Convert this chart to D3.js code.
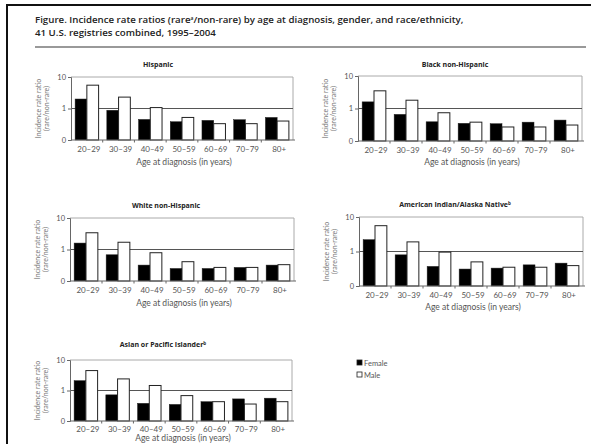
<!DOCTYPE html>
<html>
<head>
<meta charset="utf-8">
<script src="https://cdn.jsdelivr.net/npm/d3@7"></script>
<style>
  html, body { margin: 0; padding: 0; background: #fff; }
  svg { display: block; font-family: Lato, "Noto Sans", sans-serif; }
</style>
</head>
<body>
<svg id="chart" width="591" height="444"></svg>
<script>
// Age groups along the x axis
const ageGroups = ["20–29", "30–39", "40–49", "50–59", "60–69", "70–79", "80+"];

// Incidence rate ratios (rare/non-rare) by race/ethnicity and gender
const hispanicFemale = [2.0, 0.88, 0.45, 0.38, 0.42, 0.44, 0.52];
const hispanicMale   = [5.5, 2.3, 1.07, 0.52, 0.33, 0.33, 0.40];
const blackFemale    = [1.6, 0.66, 0.39, 0.35, 0.34, 0.38, 0.44];
const blackMale      = [3.5, 1.8, 0.74, 0.38, 0.27, 0.27, 0.31];
const whiteFemale    = [1.6, 0.68, 0.32, 0.25, 0.25, 0.27, 0.32];
const whiteMale      = [3.4, 1.7, 0.79, 0.41, 0.27, 0.27, 0.33];
const aianFemale     = [2.2, 0.80, 0.37, 0.31, 0.33, 0.41, 0.46];
const aianMale       = [5.6, 1.9, 0.96, 0.50, 0.35, 0.35, 0.39];
const apiFemale      = [2.1, 0.72, 0.38, 0.35, 0.43, 0.53, 0.56];
const apiMale        = [4.5, 2.4, 1.46, 0.68, 0.43, 0.36, 0.43];

// Log axis: bottom tick (0.1) is printed as "0"
const yTicks = [0.1, 1, 10];
const yTickLabels = ["0", "1", "10"];

const panelTitles = ["Hispanic", "Black non-Hispanic", "White non-Hispanic",
                     "American Indian/Alaska Native", "Asian or Pacific Islander"];
const titleMarks = ["", "", "", "b", "b"];
const legendLabels = ["Female", "Male"];

const series = [
  [hispanicFemale, hispanicMale],
  [blackFemale, blackMale],
  [whiteFemale, whiteMale],
  [aianFemale, aianMale],
  [apiFemale, apiMale]
];

// Panel geometry: plot box and text positions
const panels = [
  { x0: 71,  x1: 293, y0: 77,  y1: 140, titleX: 158, titleY: 67,  tickY: 152, labelY: 165 },
  { x0: 358, x1: 582, y0: 76,  y1: 141, titleX: 455, titleY: 67,  tickY: 153, labelY: 165 },
  { x0: 70,  x1: 294, y0: 218, y1: 281, titleX: 166, titleY: 208, tickY: 293, labelY: 306 },
  { x0: 359, x1: 583, y0: 217, y1: 286, titleX: 455, titleY: 207, tickY: 298, labelY: 310 },
  { x0: 70,  x1: 292, y0: 360, y1: 421, titleX: 163, titleY: 347, tickY: 432, labelY: 441 }
];

const svg = d3.select("#chart");
const headFont = "'Open Sans', sans-serif";

// Page frame (left and top rules)
svg.append("line").attr("x1", 7).attr("x2", 7).attr("y1", 4).attr("y2", 444)
  .attr("stroke", "#111").attr("stroke-width", 2);
svg.append("line").attr("x1", 6).attr("x2", 591).attr("y1", 5).attr("y2", 5)
  .attr("stroke", "#111").attr("stroke-width", 2);

// Figure title, two lines
const title = svg.append("text").attr("x", 35).attr("y", 23)
  .style("font-size", "9.7px").style("font-weight", 600).attr("fill", "#222")
  .style("font-family", headFont);
title.append("tspan").text("Figure. Incidence rate ratios (rare");
title.append("tspan").style("font-size", "5px").attr("dy", -3).text("a");
title.append("tspan").attr("dy", 3).text("/non-rare) by age at diagnosis, gender, and race/ethnicity,");
svg.append("text").attr("x", 35).attr("y", 36)
  .style("font-size", "9.7px").style("font-weight", 600).attr("fill", "#222")
  .style("font-family", headFont)
  .text("41 U.S. registries combined, 1995–2004");
svg.append("line").attr("x1", 35).attr("x2", 586).attr("y1", 47).attr("y2", 47)
  .attr("stroke", "#777").attr("stroke-width", 1.3);

panels.forEach((p, i) => {
  const g = svg.append("g");
  const [fem, mal] = series[i];

  const x = d3.scaleBand().domain(ageGroups).range([p.x0, p.x1]);
  const xs = d3.scaleBand().domain(legendLabels).range([0, x.bandwidth()])
    .paddingInner(0).paddingOuter(0.35);
  const y = d3.scaleLog().domain([0.1, 10]).range([p.y1, p.y0]);

  // Plot frame: top and right edges
  g.append("path")
    .attr("d", `M${p.x0},${p.y0}H${p.x1}V${p.y1}`)
    .attr("fill", "none").attr("stroke", "#aaa").attr("stroke-width", 1);

  // Reference line at ratio = 1
  g.append("line").attr("x1", p.x0).attr("x2", p.x1)
    .attr("y1", y(1)).attr("y2", y(1))
    .attr("stroke", "#555").attr("stroke-width", 1.2);

  // Bars
  [fem, mal].forEach((vals, k) => {
    g.selectAll(null).data(vals).join("rect")
      .attr("x", (d, j) => x(ageGroups[j]) + xs(legendLabels[k]))
      .attr("width", xs.bandwidth())
      .attr("y", d => y(d))
      .attr("height", d => y(0.1) - y(d))
      .attr("fill", k === 0 ? "#000" : "#fff")
      .attr("stroke", "#222").attr("stroke-width", k === 0 ? 0.5 : 1);
  });

  // Y axis
  const yAxis = d3.axisLeft(y).tickValues(yTicks)
    .tickFormat((d, j) => yTickLabels[j]).tickSize(3).tickPadding(2);
  const ya = g.append("g").attr("transform", `translate(${p.x0},0)`).call(yAxis);
  ya.attr("font-family", null).attr("font-size", null);
  ya.select(".domain").attr("stroke", "#666");
  ya.selectAll(".tick line").attr("stroke", "#666");
  ya.selectAll(".tick text").style("font-size", "7.5px").attr("fill", "#555");

  // X axis: ticks at category boundaries, labels under each group
  g.append("line").attr("x1", p.x0).attr("x2", p.x1 + 2)
    .attr("y1", p.y1).attr("y2", p.y1).attr("stroke", "#666");
  g.selectAll(null).data(ageGroups.slice(1)).join("line")
    .attr("x1", d => x(d)).attr("x2", d => x(d))
    .attr("y1", p.y1).attr("y2", p.y1 + 2.5).attr("stroke", "#666");
  g.selectAll(null).data(ageGroups).join("text")
    .attr("x", d => x(d) + x.bandwidth() / 2 + 2)
    .attr("y", p.tickY).attr("text-anchor", "middle")
    .style("font-size", "8px").attr("fill", "#555").text(d => d);

  // Axis titles
  g.append("text").attr("x", (p.x0 + p.x1) / 2 + 2).attr("y", p.labelY)
    .attr("text-anchor", "middle").style("font-size", "8.5px").attr("fill", "#555")
    .text("Age at diagnosis (in years)");
  const cy = (p.y0 + p.y1) / 2;
  const yt = g.append("text").attr("transform", `translate(${p.x0 - 30},${cy}) rotate(-90)`)
    .attr("text-anchor", "middle").style("font-size", "7px").attr("fill", "#777");
  yt.append("tspan").attr("x", 0).attr("dy", 0).text("Incidence rate ratio");
  yt.append("tspan").attr("x", 0).attr("dy", 8).text("(rare/non-rare)");

  // Panel title
  const t = g.append("text").attr("x", p.titleX).attr("y", p.titleY)
    .attr("text-anchor", "middle").style("font-size", "7px").style("font-weight", 700)
    .style("font-family", headFont).attr("fill", "#222");
  t.append("tspan").text(panelTitles[i]);
  if (titleMarks[i]) {
    t.append("tspan").style("font-size", "4.5px").attr("dy", -2.5).text(titleMarks[i]);
  }
});

// Legend
const legend = svg.append("g").attr("transform", "translate(357,360)");
legendLabels.forEach((lab, k) => {
  legend.append("rect").attr("x", 0).attr("y", k * 12).attr("width", 5).attr("height", 5)
    .attr("fill", k === 0 ? "#000" : "#fff").attr("stroke", "#222").attr("stroke-width", 0.8);
  legend.append("text").attr("x", 7).attr("y", k * 12 + 5.5)
    .style("font-size", "7.5px").attr("fill", "#555").text(lab);
});
</script>
</body>
</html>
